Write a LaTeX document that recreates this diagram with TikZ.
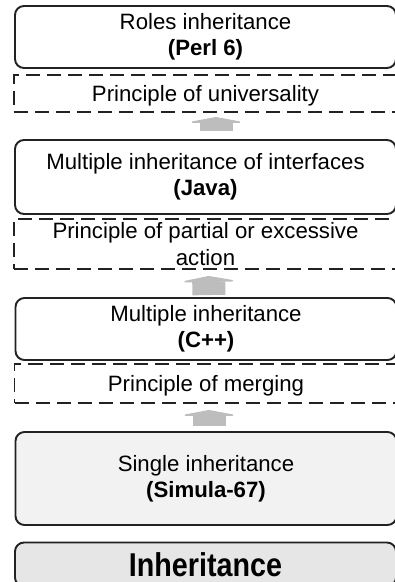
\documentclass[tikz,border=0pt]{standalone}
\usepackage{fontspec}
\setmainfont{Liberation Sans}
\newfontfamily\basefont[FakeStretch=0.87]{Liberation Sans}
\usetikzlibrary{arrows.meta}
\definecolor{edgecol}{HTML}{222222}
\definecolor{liftgray}{HTML}{BDBDBD}
\definecolor{simfill}{HTML}{F2F2F2}
\definecolor{basefill}{HTML}{E6E6E6}
\begin{document}
\begin{tikzpicture}[x=1pt, y=-1pt,
    level/.style={draw=edgecol, line width=1.9pt, rounded corners=9pt,
        minimum width=381pt, inner sep=0pt, align=center,
        font=\fontsize{22.2}{26}\selectfont,
        execute at begin node=\rule{0pt}{20pt}},
    rule/.style={draw=edgecol, line width=1.9pt, dash pattern=on 14pt off 7pt,
        minimum width=383pt, inner sep=0pt, align=center,
        font=\fontsize{22.2}{26.5}\selectfont,
        execute at begin node=\rule{0pt}{20pt}},
    lift/.style={liftgray, line width=33pt, -{Triangle[width=64pt, length=6pt]}}]
    % 1. Khung hình
    \useasboundingbox (0,0) rectangle (395,582);
    \clip (0,0) rectangle (395,582);

    % 2. Các mức kế thừa
    \node[level, minimum height=62pt] (roles) at (205.5,37)
        {Roles inheritance\\\textbf{(Perl 6)}};
    \node[rule, minimum height=37pt] (univ) at (205.5,93.5)
        {Principle of universality};
    \node[level, minimum height=74pt] (java) at (205.5,177)
        {Multiple inheritance of interfaces\\\textbf{(Java)}};
    \node[rule, minimum height=50pt] (partial) at (205.5,244)
        {Principle of partial or excessive\\action};
    \node[level, minimum height=62pt] (cpp) at (206,329)
        {Multiple inheritance\\\textbf{(C++)}};
    \node[rule, minimum height=39pt] (merge) at (206,383.5)
        {Principle of merging};
    \node[level, fill=simfill, minimum height=93pt] (simula) at (206,478.5)
        {Single inheritance\\\textbf{(Simula-67)}};
    \node[level, fill=basefill, minimum height=44pt, execute at begin node={},
        font=\basefont\fontsize{33}{36}\bfseries] (base) at (205.5,564.5) {Inheritance};

    % 3. Mũi tên
    \draw[lift, shorten <=8pt, shorten >=4pt]
        ([xshift=10.5pt]java.north) -- ([xshift=10.5pt]univ.south);
    \draw[lift, shorten <=2pt, shorten >=6pt]
        ([xshift=3pt]cpp.north) -- ([xshift=3pt]partial.south);
    \draw[lift, shorten <=5pt, shorten >=6pt]
        ([xshift=3pt]simula.north) -- ([xshift=3pt]merge.south);
\end{tikzpicture}
\end{document}
